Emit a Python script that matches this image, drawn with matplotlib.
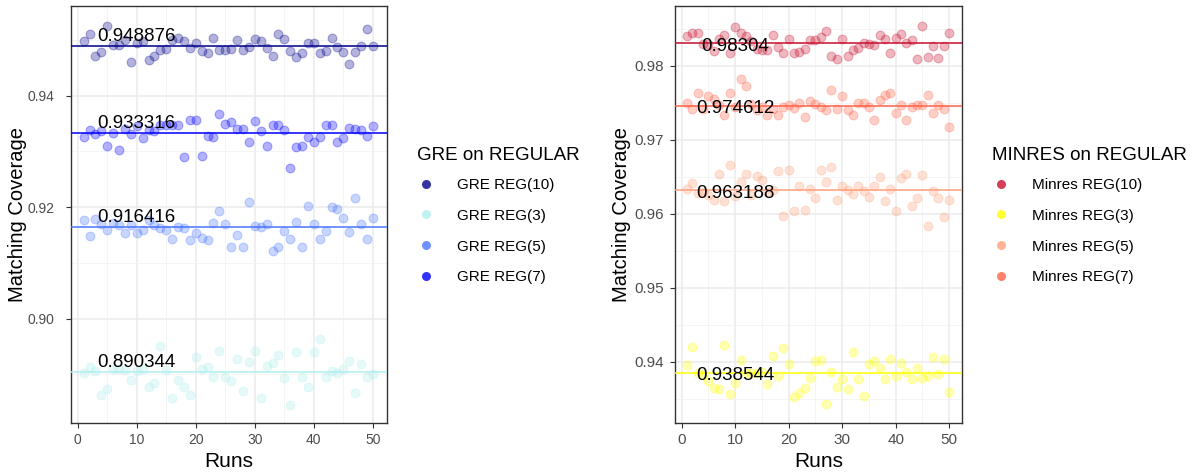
import matplotlib.pyplot as plt
from matplotlib.lines import Line2D

plt.rcParams['font.family'] = ['Liberation Sans', 'DejaVu Sans']

runs = list(range(1, 51))

# GRE on REGULAR
gre_labels = ['GRE REG(10)', 'GRE REG(3)', 'GRE REG(5)', 'GRE REG(7)']
gre_colors = ['#00008B', '#AFEEEE', '#4876FF', '#0000FF']
gre_means = [0.948876, 0.890344, 0.916416, 0.933316]
gre_10 = [0.94989, 0.95115, 0.94720, 0.94780, 0.95246, 0.94918, 0.94906, 0.95007, 0.94600, 0.94947,
          0.94977, 0.94648, 0.94708, 0.94816, 0.94840, 0.95007, 0.95037, 0.94989, 0.94858, 0.94947,
          0.94798, 0.94768, 0.95031, 0.94816, 0.94816, 0.94840, 0.95007, 0.94816, 0.94876, 0.95019,
          0.94977, 0.94858, 0.94720, 0.95103, 0.95025, 0.94804, 0.94696, 0.94768, 0.94947, 0.94947,
          0.94768, 0.94810, 0.95031, 0.94876, 0.94792, 0.94577, 0.94792, 0.94888, 0.95199, 0.94888]
gre_3 = [0.89017, 0.89136, 0.89052, 0.88634, 0.88735, 0.89094, 0.89100, 0.89076, 0.88897, 0.89050,
         0.89100, 0.88765, 0.88837, 0.89513, 0.89080, 0.88574, 0.88897, 0.88765, 0.88634, 0.89304,
         0.89094, 0.89136, 0.88945, 0.89423, 0.88945, 0.88873, 0.89274, 0.88706, 0.89214, 0.89423,
         0.88574, 0.89154, 0.89196, 0.89351, 0.88927, 0.88448, 0.89393, 0.88945, 0.88765, 0.89393,
         0.89632, 0.88945, 0.89064, 0.89017, 0.89094, 0.89232, 0.88664, 0.89184, 0.88945, 0.89005]
gre_5 = [0.91761, 0.91480, 0.91779, 0.91700, 0.91582, 0.91719, 0.91680, 0.91540, 0.91672, 0.91540,
         0.91580, 0.91761, 0.91672, 0.91630, 0.91582, 0.91420, 0.91642, 0.91618, 0.91402, 0.91540,
         0.91438, 0.91402, 0.91719, 0.91929, 0.91689, 0.91283, 0.91498, 0.91283, 0.92096, 0.91660,
         0.91642, 0.91689, 0.91211, 0.91283, 0.91570, 0.91420, 0.91737, 0.91283, 0.92018, 0.91689,
         0.91432, 0.91570, 0.92006, 0.91959, 0.91809, 0.91552, 0.92156, 0.91689, 0.91432, 0.91809]
gre_7 = [0.93254, 0.93392, 0.93314, 0.93360, 0.93092, 0.93326, 0.93026, 0.93400, 0.93314, 0.93450,
         0.93242, 0.93380, 0.93362, 0.93481, 0.93481, 0.93481, 0.93481, 0.92894, 0.93571, 0.93571,
         0.92912, 0.93284, 0.93254, 0.93673, 0.93493, 0.93523, 0.93403, 0.93403, 0.93164, 0.93553,
         0.93362, 0.93092, 0.93475, 0.93475, 0.93385, 0.92697, 0.93074, 0.93092, 0.93266, 0.93176,
         0.93254, 0.93475, 0.93475, 0.93164, 0.93242, 0.93421, 0.93403, 0.93385, 0.93284, 0.93451]

# MINRES on REGULAR
min_labels = ['Minres REG(10)', 'Minres REG(3)', 'Minres REG(5)', 'Minres REG(7)']
min_colors = ['#C8102E', '#FFFF00', '#FFA07A', '#FF6347']
min_means = [0.98304, 0.938544, 0.963188, 0.974612]
min_10 = [0.98403, 0.98439, 0.98448, 0.98291, 0.98290, 0.98200, 0.98358, 0.98412, 0.98178, 0.98529,
          0.98439, 0.98403, 0.98336, 0.98232, 0.98210, 0.98210, 0.98412, 0.98259, 0.98178, 0.98367,
          0.98178, 0.98192, 0.98223, 0.98345, 0.98345, 0.98390, 0.98471, 0.98133, 0.98088, 0.98367,
          0.98133, 0.98210, 0.98246, 0.98313, 0.98300, 0.98282, 0.98412, 0.98358, 0.98178, 0.98381,
          0.98435, 0.98313, 0.98345, 0.98088, 0.98538, 0.98124, 0.98268, 0.98111, 0.98268, 0.98448]
min_3 = [0.93958, 0.94205, 0.93850, 0.93820, 0.93742, 0.93652, 0.93629, 0.94223, 0.93562, 0.93719,
         0.94025, 0.93850, 0.93854, 0.93854, 0.93860, 0.93706, 0.94079, 0.93809, 0.94183, 0.93967,
         0.93526, 0.93575, 0.93652, 0.93787, 0.94012, 0.94025, 0.93436, 0.93868, 0.93665, 0.93764,
         0.93638, 0.94133, 0.93764, 0.93539, 0.93976, 0.94012, 0.93922, 0.93764, 0.94043, 0.93809,
         0.93989, 0.93868, 0.93764, 0.93922, 0.93787, 0.93809, 0.94066, 0.93832, 0.94043, 0.93598]
min_5 = [0.96337, 0.96418, 0.96283, 0.96300, 0.96260, 0.96184, 0.96544, 0.96170, 0.96665, 0.96238,
         0.96427, 0.96544, 0.96260, 0.96517, 0.96463, 0.96300, 0.96330, 0.96575, 0.95968, 0.96589,
         0.96044, 0.96382, 0.96058, 0.96337, 0.96215, 0.96589, 0.96427, 0.96634, 0.96184, 0.96373,
         0.96319, 0.96274, 0.96382, 0.96305, 0.96229, 0.96382, 0.96494, 0.96170, 0.96337, 0.96044,
         0.96485, 0.96544, 0.96112, 0.96215, 0.96530, 0.95842, 0.96305, 0.96215, 0.95954, 0.96184]
min_7 = [0.97502, 0.97416, 0.97641, 0.97420, 0.97596, 0.97551, 0.97470, 0.97335, 0.97628, 0.97450,
         0.97821, 0.97731, 0.97480, 0.97403, 0.97450, 0.97335, 0.97416, 0.97335, 0.97448, 0.97470,
         0.97434, 0.97506, 0.97313, 0.97520, 0.97484, 0.97448, 0.97400, 0.97673, 0.97425, 0.97596,
         0.97403, 0.97335, 0.97506, 0.97506, 0.97448, 0.97268, 0.97538, 0.97614, 0.97628, 0.97358,
         0.97479, 0.97268, 0.97448, 0.97479, 0.97479, 0.97614, 0.97358, 0.97479, 0.97425, 0.97178]

gre_series = [gre_10, gre_3, gre_5, gre_7]
min_series = [min_10, min_3, min_5, min_7]

fig = plt.figure(figsize=(11.92, 4.76), dpi=100)
ax1 = fig.add_axes([0.0593, 0.112, 0.2651, 0.8754])
ax2 = fig.add_axes([0.5665, 0.112, 0.2403, 0.8754])


def draw_panel(ax, series, colors, means, ylim, yticks, yminor, label_dy, label_va,
               tick_size, ypad, ylab_x):
    ax.set_facecolor('white')
    for data, col in zip(series, colors):
        ax.scatter(runs, data, s=40, color=col, alpha=0.3, edgecolors=col,
                   linewidths=0.8, zorder=3)
    for m, col in zip(means, colors):
        ax.axhline(m, color=col, alpha=0.85, lw=1.3, zorder=4)
    for m in means:
        ax.annotate(f'{m:g}', xy=(10, m), xytext=(0, label_dy), textcoords='offset points',
                    ha='center', va=label_va, fontsize=13.5, color='black', zorder=5)
    ax.set_xlim(-1.2, 52.35)
    ax.set_ylim(*ylim)
    ax.set_xticks([0, 10, 20, 30, 40, 50])
    ax.set_xticks([5, 15, 25, 35, 45], minor=True)
    ax.set_yticks(yticks)
    ax.set_yticks(yminor, minor=True)
    ax.set_yticklabels([f'{t:.2f}' for t in yticks])
    ax.grid(which='major', color='#EBEBEB', lw=1.1, zorder=0)
    ax.grid(which='minor', color='#F2F2F2', lw=0.6, zorder=0)
    ax.set_axisbelow(True)
    ax.tick_params(which='major', length=3.5, width=0.8, color='#333333',
                   labelsize=tick_size, labelcolor='#4D4D4D')
    ax.tick_params(axis='x', pad=4)
    ax.tick_params(axis='y', pad=ypad)
    ax.tick_params(which='minor', length=0)
    for sp in ax.spines.values():
        sp.set_color('#333333')
        sp.set_linewidth(1.0)
    ax.set_xlabel('Runs', fontsize=15)
    ax.set_ylabel('Matching Coverage', fontsize=14.5)
    ax.xaxis.set_label_coords(0.5, -0.071)
    ax.xaxis.label.set_verticalalignment('top')
    ax.yaxis.set_label_coords(ylab_x, 0.5)
    ax.yaxis.label.set_verticalalignment('center')


draw_panel(ax1, gre_series, gre_colors, gre_means, (0.8813, 0.9561),
           [0.90, 0.92, 0.94], [0.89, 0.91, 0.93, 0.95], 1, 'bottom',
           10, 8, -0.168)
draw_panel(ax2, min_series, min_colors, min_means, (0.9318, 0.9881),
           [0.94, 0.95, 0.96, 0.97, 0.98], [0.935, 0.945, 0.955, 0.965, 0.975, 0.985], -2, 'center',
           11, 4.5, -0.186)


def add_legend(labels, colors, title, x, y):
    handles = [Line2D([], [], marker='o', linestyle='none', markersize=6.5,
                      markerfacecolor=c, markeredgecolor='none', alpha=0.8) for c in colors]
    leg = fig.legend(handles, labels, title=title, loc='upper left',
                     bbox_to_anchor=(x, y), frameon=False, fontsize=11,
                     title_fontsize=13.5, alignment='left', borderpad=0,
                     handlelength=1.2, handletextpad=1.4, labelspacing=1.1)
    leg._legend_box.sep = 10
    return leg


add_legend(gre_labels, gre_colors, 'GRE on REGULAR', 0.3435, 0.707)
add_legend(min_labels, min_colors, 'MINRES on REGULAR', 0.826, 0.707)

fig.savefig('out.png', dpi=100, facecolor='white')
